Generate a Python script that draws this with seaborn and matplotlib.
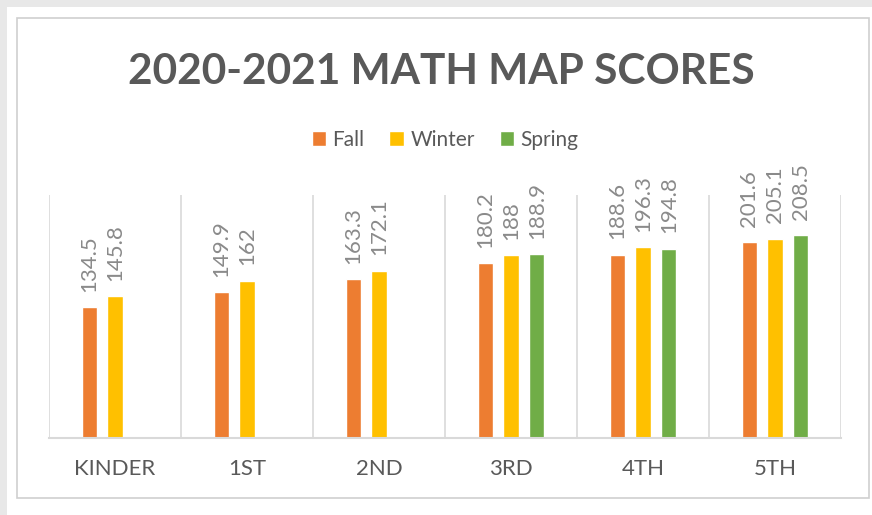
"""
2020-2021 Math MAP scores by grade and testing season - grouped bar chart.
Saves out.png (872 x 515 px).
"""
import numpy as np
import pandas as pd
import matplotlib.pyplot as plt
from matplotlib.patches import Rectangle
import seaborn as sns

# ----------------------------------------------------------------------
# Data. Spring was not reported for K-2.
# ----------------------------------------------------------------------
grades = ["KINDER", "1ST", "2ND", "3RD", "4TH", "5TH"]
seasons = ["Fall", "Winter", "Spring"]
fall = [134.5, 149.9, 163.3, 180.2, 188.6, 201.6]
winter = [145.8, 162, 172.1, 188, 196.3, 205.1]
spring = [np.nan, np.nan, np.nan, 188.9, 194.8, 208.5]

colors = ["#ED7D31", "#FFC000", "#70AD47"]
TEXT = "#595959"
LABEL = "#8a8a8a"
GRID = "#d9d9d9"

df = pd.DataFrame({"grade": grades, "Fall": fall, "Winter": winter, "Spring": spring})
long_df = df.melt(id_vars="grade", var_name="season", value_name="score").dropna()

# ----------------------------------------------------------------------
# Figure
# ----------------------------------------------------------------------
sns.set_theme(style="white")
plt.rcParams["font.family"] = ["Lato", "DejaVu Sans"]

W, H = 872, 515
fig = plt.figure(figsize=(W / 100, H / 100), dpi=100)
fig.patch.set_facecolor("#e8e8e8")

# screenshot frame: white sheet and the chart border inside it
fig.patches.append(Rectangle((7 / W, 0), 1, 1 - 7 / H, transform=fig.transFigure,
                             facecolor="white", edgecolor="none", zorder=-2))
fig.patches.append(Rectangle((17 / W, 1 - 498 / H), (869 - 17) / W, (498 - 18) / H,
                             transform=fig.transFigure, facecolor="none",
                             edgecolor="#cfcfcf", lw=1.2, zorder=-1))

ax = fig.add_axes([49 / W, 1 - 438 / H, (841 - 49) / W, (438 - 195) / H])
ax.set_facecolor("none")

sns.barplot(data=long_df, x="grade", y="score", hue="season",
            order=grades, hue_order=seasons, palette=colors,
            width=0.59, gap=0.42, saturation=1, errorbar=None, ax=ax)

for cont in ax.containers:
    ax.bar_label(cont, fmt="{:g}", rotation=90, padding=11,
                 color=LABEL, fontsize=16)

# vertical separators between grades
for b in np.arange(len(grades) + 1) - 0.5:
    ax.axvline(b, color=GRID, lw=1.2, zorder=0)

ax.set_xlim(-0.5, len(grades) - 0.5)
ax.set_ylim(0, 250)
ax.set_xlabel("")
ax.set_ylabel("")
ax.set_yticks([])
ax.tick_params(axis="x", length=0, pad=15, labelsize=16, labelcolor=TEXT)
for side in ["top", "left", "right"]:
    ax.spines[side].set_visible(False)
ax.spines["bottom"].set_color(GRID)
ax.spines["bottom"].set_linewidth(1.5)

sns.move_legend(ax, "center", bbox_to_anchor=(445 / W, 1 - 140 / H),
                bbox_transform=fig.transFigure, ncol=3, frameon=False,
                title=None, fontsize=15, handlelength=0.7, handleheight=0.7,
                handletextpad=0.3, columnspacing=1.2)
for t in ax.get_legend().get_texts():
    t.set_color(TEXT)

fig.text(441 / W, 1 - 72 / H, "2020-2021 MATH MAP SCORES", ha="center",
         va="center", fontsize=30.5, fontweight="bold", color=TEXT)

fig.savefig("out.png", dpi=100)
